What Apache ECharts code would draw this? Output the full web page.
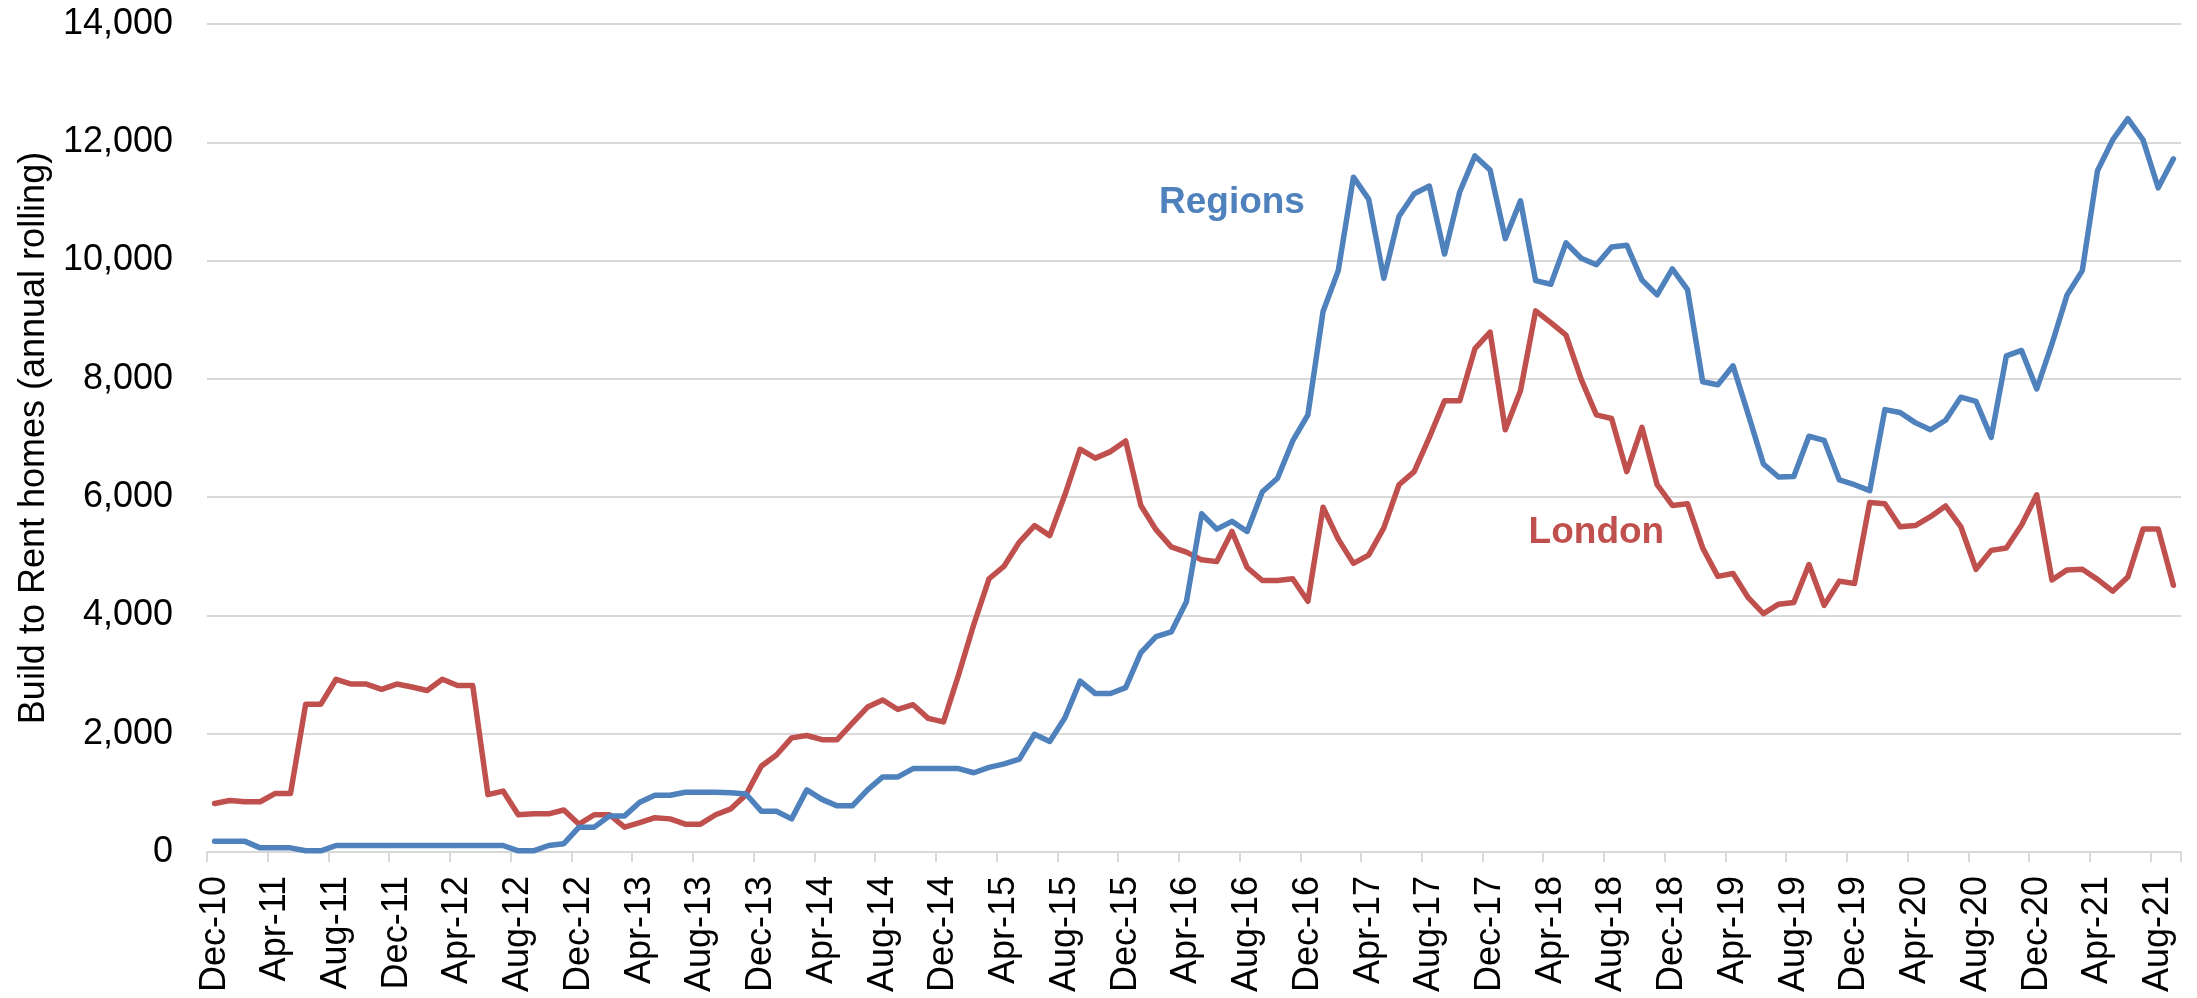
<!DOCTYPE html>
<html>
<head>
<meta charset="utf-8">
<script src="https://cdn.jsdelivr.net/npm/echarts@6/dist/echarts.min.js"></script>
<style>
html,body{margin:0;padding:0;background:#fff;}
#chart{width:2197px;height:998px;}
</style>
</head>
<body>
<div id="chart"></div>
<script>
const categories = [
 'Dec-10',
 'Jan-11','Feb-11','Mar-11','Apr-11','May-11','Jun-11','Jul-11','Aug-11','Sep-11','Oct-11','Nov-11','Dec-11',
 'Jan-12','Feb-12','Mar-12','Apr-12','May-12','Jun-12','Jul-12','Aug-12','Sep-12','Oct-12','Nov-12','Dec-12',
 'Jan-13','Feb-13','Mar-13','Apr-13','May-13','Jun-13','Jul-13','Aug-13','Sep-13','Oct-13','Nov-13','Dec-13',
 'Jan-14','Feb-14','Mar-14','Apr-14','May-14','Jun-14','Jul-14','Aug-14','Sep-14','Oct-14','Nov-14','Dec-14',
 'Jan-15','Feb-15','Mar-15','Apr-15','May-15','Jun-15','Jul-15','Aug-15','Sep-15','Oct-15','Nov-15','Dec-15',
 'Jan-16','Feb-16','Mar-16','Apr-16','May-16','Jun-16','Jul-16','Aug-16','Sep-16','Oct-16','Nov-16','Dec-16',
 'Jan-17','Feb-17','Mar-17','Apr-17','May-17','Jun-17','Jul-17','Aug-17','Sep-17','Oct-17','Nov-17','Dec-17',
 'Jan-18','Feb-18','Mar-18','Apr-18','May-18','Jun-18','Jul-18','Aug-18','Sep-18','Oct-18','Nov-18','Dec-18',
 'Jan-19','Feb-19','Mar-19','Apr-19','May-19','Jun-19','Jul-19','Aug-19','Sep-19','Oct-19','Nov-19','Dec-19',
 'Jan-20','Feb-20','Mar-20','Apr-20','May-20','Jun-20','Jul-20','Aug-20','Sep-20','Oct-20','Nov-20','Dec-20',
 'Jan-21','Feb-21','Mar-21','Apr-21','May-21','Jun-21','Jul-21','Aug-21','Sep-21'
];

const regions = [
 180,
 180,180,70,70,70,20,20,110,110,110,110,110,
 110,110,110,110,110,110,110,20,20,110,140,420,
 420,610,610,840,960,960,1010,1010,1010,1000,980,690,
 690,560,1050,890,780,780,1050,1270,1270,1410,1410,1410,
 1410,1340,1430,1490,1570,1990,1870,2270,2890,2680,2680,2780,
 3370,3640,3720,4230,5720,5460,5590,5420,6090,6320,6950,7390,
 9140,9830,11410,11040,9700,10750,11130,11260,10110,11160,11770,11530,
 10370,11010,9660,9600,10300,10040,9930,10230,10260,9670,9420,9860,
 9510,7950,7900,8220,7400,6560,6340,6350,7030,6960,6290,6210,
 6110,7480,7430,7260,7140,7300,7690,7620,7010,8390,8480,7830,
 8590,9420,9830,11520,12040,12400,12040,11230,11720
];

const london = [
 820,
 870,850,850,990,990,2500,2500,2920,2840,2840,2750,2840,
 2790,2730,2920,2815,2815,970,1030,630,645,645,710,470,
 630,630,420,495,580,560,470,470,630,730,970,1450,
 1640,1930,1970,1900,1900,2180,2450,2570,2410,2490,2260,2200,
 3000,3850,4620,4835,5240,5520,5350,6040,6810,6660,6770,6950,
 5860,5450,5160,5070,4940,4910,5420,4810,4590,4590,4620,4240,
 5830,5290,4880,5020,5480,6210,6430,7010,7630,7630,8510,8790,
 7140,7800,9150,8950,8740,7990,7390,7330,6430,7180,6210,5860,
 5890,5140,4660,4710,4300,4030,4190,4220,4860,4170,4580,4540,
 5910,5890,5500,5520,5670,5850,5500,4780,5100,5140,5530,6040,
 4600,4770,4780,4610,4410,4650,5460,5460,4510
];

const yTicks = [0, 2000, 4000, 6000, 8000, 10000, 12000, 14000];

const FONT = "'Liberation Sans', Arial, sans-serif";
const BLUE = '#4F81BD';
const RED = '#C0504D';

const chart = echarts.init(document.getElementById('chart'), null, {renderer: 'canvas'});

function seriesLabel(text, color, coord) {
  return {
    symbol: 'circle',
    symbolSize: 1,
    silent: true,
    itemStyle: {color: 'rgba(0,0,0,0)'},
    label: {
      show: true,
      position: 'inside',
      formatter: text,
      color: color,
      fontFamily: FONT,
      fontWeight: 'bold',
      fontSize: 37
    },
    data: [{coord: coord}]
  };
}

chart.setOption({
  animation: false,
  backgroundColor: '#ffffff',
  grid: {left: 207, right: 16, top: 24, bottom: 146, containLabel: false},
  xAxis: {
    type: 'category',
    data: categories,
    boundaryGap: true,
    axisLine: {show: true, lineStyle: {color: '#D9D9D9', width: 2}},
    axisTick: {show: true, interval: 3, length: 10, lineStyle: {color: '#D9D9D9', width: 2}},
    axisLabel: {
      interval: 3,
      rotate: 90,
      margin: 24,
      color: '#000',
      fontFamily: FONT,
      fontSize: 36
    },
    splitLine: {show: false}
  },
  yAxis: {
    type: 'value',
    min: yTicks[0],
    max: yTicks[yTicks.length - 1],
    interval: yTicks[1] - yTicks[0],
    name: 'Build to Rent homes (annual rolling)',
    nameLocation: 'middle',
    nameGap: 154,
    nameTextStyle: {color: '#000', fontFamily: FONT, fontSize: 36},
    axisLine: {show: false},
    axisTick: {show: false},
    axisLabel: {
      margin: 34,
      color: '#000',
      fontFamily: FONT,
      fontSize: 36,
      formatter: v => v.toLocaleString('en-GB')
    },
    splitLine: {show: true, lineStyle: {color: '#D9D9D9', width: 2}}
  },
  series: [
    {
      name: 'Regions',
      type: 'line',
      data: regions,
      showSymbol: false,
      smooth: false,
      lineStyle: {color: BLUE, width: 5.5, join: 'round', cap: 'round'},
      itemStyle: {color: BLUE},
      markPoint: seriesLabel('Regions', BLUE, ['Jul-16', 10985]),
      z: 3
    },
    {
      name: 'London',
      type: 'line',
      data: london,
      showSymbol: false,
      smooth: false,
      lineStyle: {color: RED, width: 5.5, join: 'round', cap: 'round'},
      itemStyle: {color: RED},
      markPoint: seriesLabel('London', RED, ['Jul-18', 5396]),
      z: 2
    }
  ]
});
</script>
</body>
</html>
